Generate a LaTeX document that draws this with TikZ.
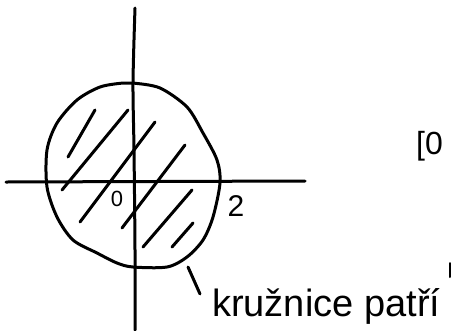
\documentclass[tikz,border=0pt]{standalone}
\usepackage{fontspec}
\setmainfont{Liberation Sans}
\usepackage{tikz}
\usetikzlibrary{positioning, calc}
\definecolor{encre}{RGB}{0,0,0}

\begin{document}
\begin{tikzpicture}[x=1pt, y=-1pt, line cap=round, line join=round,
		trait/.style={encre, line width=3pt},
		hachure/.style={encre, line width=3pt},
		etiquette/.style={inner sep=0pt, text=encre}]
	\useasboundingbox (0,0) rectangle (452,330);
	\clip (0,0) rectangle (452,330);
	
	% axes
	\draw[trait] (6,182) -- (305,181);
	\draw[trait] plot[smooth] coordinates {(135,8) (133,83) (134,150) (135,250) (135,330)};
	
	% kruh
	\draw[trait] plot[smooth cycle] coordinates {(133,83) (160,88) (187,107) (203,133) (217,160) (220,183)
		(213,217) (203,240) (187,257) (167,267) (133,267) (117,263) (97,253) (73,240)
		(57,217) (47,187) (47,150) (57,123) (77,100) (100,87) (123,83)};
	
	% hachures
	\draw[hachure] (95,110) -- (68,157);
	\draw[hachure] (128,110) -- (62,190);
	\draw[hachure] (155,122) -- (80,222);
	\draw[hachure] (185,145) -- (122,228);
	\draw[hachure] (192,190) -- (143,247);
	\draw[hachure] (193,223) -- (172,247);
	
	\node[etiquette, font=\fontsize{22}{24}\selectfont] (zero) at (117,199) {0};
	\node[etiquette, font=\fontsize{30}{32}\selectfont] (two) at (236,206) {2};
	\node[etiquette, font=\fontsize{32}{34}\selectfont, anchor=west] (interval) at (416,146) {[0};
	
	\node[etiquette, font=\fontsize{38}{40}\selectfont, anchor=base west] (patri) at (212,316) {kružnice patří};
	\coordinate (pied) at (188,267);
	\draw[trait] (pied) -- ($(patri.west)+(-12,-12)$);
	\coordinate (coche) at (450,263);
	\draw[trait, line width=2pt] (coche) -- ++(0,14);
\end{tikzpicture}
\end{document}
